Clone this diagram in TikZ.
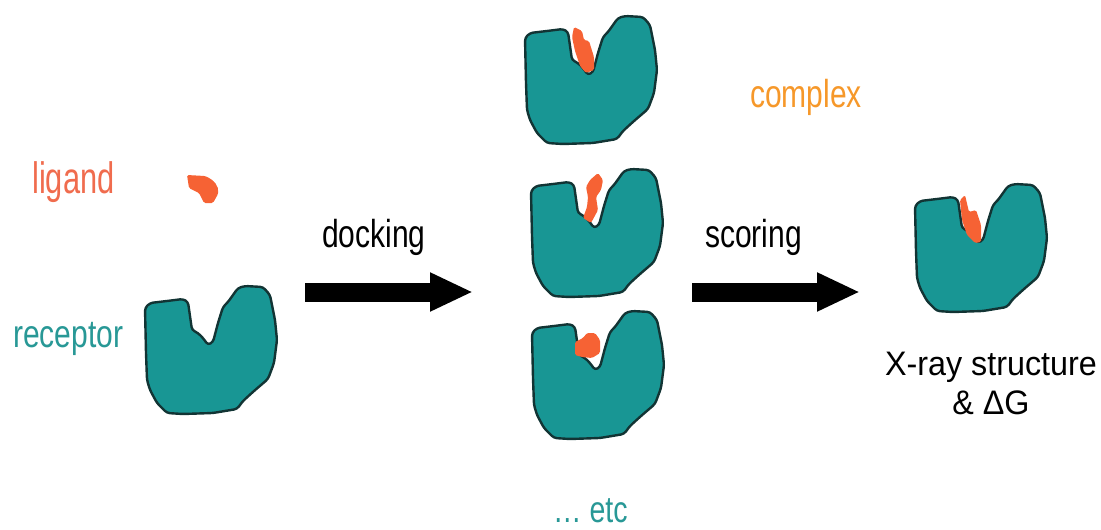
\documentclass[tikz,border=0pt]{standalone}
\usepackage{fontspec}
\setmainfont{Liberation Sans}
\newfontfamily\narrowsans{Liberation Sans}[FakeStretch=0.77]
\newfontfamily\narrowersans{Liberation Sans}[FakeStretch=0.70]
\newfontfamily\widesans{Liberation Sans}[FakeStretch=0.95]
\usetikzlibrary{arrows.meta}

\definecolor{protein}{RGB}{24,150,148}
\definecolor{proteinedge}{RGB}{18,52,52}
\definecolor{ligandfill}{RGB}{246,98,52}
\definecolor{ligandtext}{RGB}{240,108,78}
\definecolor{complextext}{RGB}{246,152,42}
\definecolor{receptortext}{RGB}{40,152,150}

\tikzset{
  recep/.style={fill=protein, draw=proteinedge, line width=2.4pt, rounded corners=3pt, line join=round},
  lig/.style={fill=ligandfill, draw=none, rounded corners=1.5pt},
  lbl/.style={font=\narrowsans\fontsize{39}{42}\selectfont, inner sep=0pt, anchor=base west},
  bigarrow/.style={line width=19pt, -{Triangle[length=43pt,width=36pt]}},
  pics/receptor/.style={code={
    \draw[recep] (0,21) -- (5,16) -- (22,14) -- (38,12) -- (43,15) -- (47,43)
      -- (53,46) -- (58,51) -- (63,58) -- (68,55) -- (73,36) -- (78,20)
      -- (83,15) -- (88,8) -- (93,1) -- (100,-1) -- (118,0) -- (125,8)
      -- (130,33) -- (132,53) -- (129,76) -- (123,92) -- (109,104)
      -- (98,114) -- (92,122) -- (68,126) -- (38,127) -- (22,126)
      -- (12,116) -- (5,103) -- (2,93) -- (1,66) -- cycle;
  }}
}

\begin{document}
\begin{tikzpicture}[x=1pt,y=-1pt]
  \useasboundingbox (0,0) rectangle (1101,530);

  % free ligand and receptor
  \node[lbl, text=ligandtext, font=\narrowersans\fontsize{44}{46}\selectfont] (ligandlbl) at (32,193) {ligand};
  \node[lbl, text=receptortext] (receptorlbl) at (13,347) {receptor};
  \path[lig] (187,175) -- (205,176) .. controls (214,180) and (219,186) .. (218,194)
    -- (213,203) -- (204,203) -- (199,193) -- (189,188) -- cycle;
  \pic (rec) at (145,287) {receptor};

  % docking step
  \node[lbl] (dockinglbl) at (322,247) {docking};
  \coordinate (dockA) at (305,292);
  \coordinate (dockB) at (473,292);
  \draw[bigarrow] (dockA) -- (dockB);

  % candidate poses
  \pic (poseA) at (525,17) {receptor};
  \path[lig] (574,27) -- (582,31) -- (584,40) -- (589,41) -- (594,57) -- (594,70)
    -- (586,73) -- (580,66) -- (575,51) -- (572,37) -- cycle;
  \pic (poseB) at (531,170) {receptor};
  \path[lig] (590,180) -- (598,173) -- (603,180) -- (601,190) -- (596,197) -- (598,210)
    -- (591,223) -- (583,218) -- (587,207) -- (588,197) -- (586,187) -- cycle;
  \pic (poseC) at (532,312) {receptor};
  \path[lig] (575,342) -- (583,338) -- (587,333) -- (595,333) -- (600,340) -- (600,353)
    -- (592,358) -- (582,357) -- (575,355) -- cycle;
  \node[lbl, text=receptortext, font=\narrowsans\fontsize{37}{40}\selectfont] (etclbl) at (553,522) {… etc};
  \node[lbl, text=complextext] (complexlbl) at (750,107) {complex};

  % scoring step
  \node[lbl] (scoringlbl) at (705,247) {scoring};
  \coordinate (scoreA) at (692,292);
  \coordinate (scoreB) at (860,292);
  \draw[bigarrow] (scoreA) -- (scoreB);

  % best pose
  \pic (best) at (915,185) {receptor};
  \path[lig] (960,200) -- (965,195) -- (969,212) -- (976,210) -- (981,225) -- (981,242)
    -- (975,243) -- (967,235) -- (962,220) -- cycle;
  \node[font=\widesans\fontsize{34}{39}\selectfont, inner sep=0pt, align=center, anchor=north]
    (resultlbl) at (991,352) {X-ray structure\\\& ΔG};
\end{tikzpicture}
\end{document}
